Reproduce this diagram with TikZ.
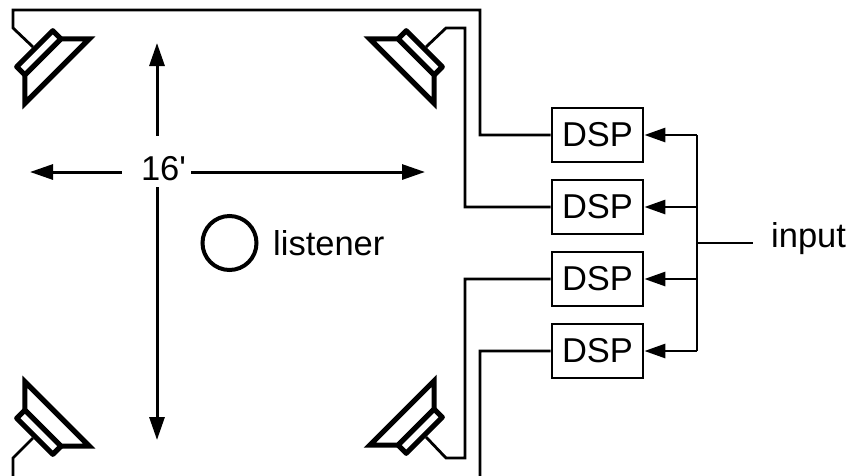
\documentclass[tikz,border=0pt]{standalone}
\usepackage{fontspec}
\setmainfont{Liberation Sans}
\usetikzlibrary{arrows.meta}
\begin{document}
\begin{tikzpicture}[x=1pt,y=-1pt,
  wire/.style={line width=2.8pt,line join=miter},
  dim/.style={line width=3pt,-{Triangle[length=23pt,width=15pt]}},
  feed/.style={line width=2.8pt,-{Triangle[length=21pt,width=14pt]}},
  dspbox/.style={draw,line width=2.8pt,minimum width=91pt,minimum height=54pt,inner sep=0pt,font=\fontsize{34.5}{40}\selectfont},
  lbl/.style={inner sep=0pt,font=\fontsize{34.5}{40}\selectfont},
  spkline/.style={line width=5.2pt,fill=white},
  spkr/.pic={
    \draw[spkline,line join=miter] (14,-25.5) -- (34,-45.5) -- (34,45.5) -- (14,25.5) -- cycle;
    \draw[spkline,line join=round] (2.5,-25.5) rectangle (14,25.5);
  }]
\useasboundingbox (0,0) rectangle (851,475);
\clip (0,0) rectangle (851,475);
% speaker anchor points (back centres)
\coordinate (spk1) at (33,47);
\coordinate (spk2) at (426,47);
\coordinate (spk3) at (426,437);
\coordinate (spk4) at (33,438);
% DSP boxes
\node[dspbox] (d1) at (597.5,135) {DSP};
\node[dspbox] (d2) at (597.5,207) {DSP};
\node[dspbox] (d3) at (597.5,279) {DSP};
\node[dspbox] (d4) at (597.5,351) {DSP};
% input bus
\coordinate (bustop) at (697,135);
\coordinate (busbot) at (697,351);
\coordinate (busin) at (697,243);
\coordinate (inend) at (753,243);
\node[lbl,anchor=base west] (input) at (771,247) {input};
\draw[wire] (bustop) -- (busbot);
\draw[wire] (busin) -- (inend);
\draw[feed] (bustop) -- (d1.east);
\draw[feed] (busin |- d2.east) -- (d2.east);
\draw[feed] (busin |- d3.east) -- (d3.east);
\draw[feed] (busbot) -- (d4.east);
% wires to speakers
\draw[wire] (spk1) -- ++(-20,-19) |- (480,10) |- (d1.west);
\draw[wire] (spk2) -- ++(20,-19) -- ++(19,0) |- (d2.west);
\draw[wire] (spk3) -- ++(20,21) -- ++(19,0) |- (d3.west);
\draw[wire] (spk4) -- ++(-20,20) |- (480,490) |- (d4.west);
% speakers
\pic[rotate=-45] at (spk1) {spkr};
\pic[rotate=-135] at (spk2) {spkr};
\pic[rotate=135] at (spk3) {spkr};
\pic[rotate=45] at (spk4) {spkr};
% room dimension
\node[minimum width=69pt,minimum height=51pt,inner sep=0pt] (gap) at (156.5,161.5) {};
\node[lbl,anchor=base] (len) at (163.5,180) {16\textquotesingle};
\coordinate (vt) at (157,43);
\coordinate (vb) at (157,440);
\coordinate (hl) at (30,172);
\coordinate (hr) at (425,172);
\draw[dim] (gap.north -| vt) -- (vt);
\draw[dim] (gap.south -| vb) -- (vb);
\draw[dim] (gap.west |- hl) -- (hl);
\draw[dim] (gap.east |- hr) -- (hr);
% listener
\node[draw,circle,line width=4pt,minimum size=54pt,inner sep=0pt] (lis) at (229.5,243) {};
\node[lbl,anchor=base west] (listener) at (273,255) {listener};
\end{tikzpicture}
\end{document}
